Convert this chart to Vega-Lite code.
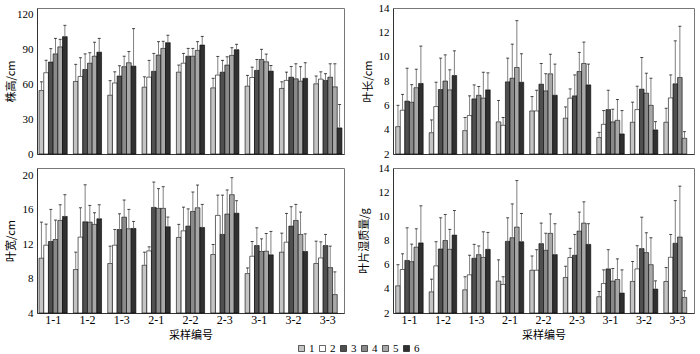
{
  "$schema": "https://vega.github.io/schema/vega-lite/v6.json",
  "padding": {"left": 4, "top": 1, "right": 5, "bottom": 0},
  "background": "white",
  "datasets": {
    "d": [
      {"p":"h","g":"1-1","s":"1","v":54.5,"e":62},{"p":"h","g":"1-1","s":"2","v":69.8,"e":80.5},{"p":"h","g":"1-1","s":"3","v":79,"e":90.5},{"p":"h","g":"1-1","s":"4","v":86,"e":99.3},{"p":"h","g":"1-1","s":"5","v":92,"e":98.5},{"p":"h","g":"1-1","s":"6","v":100.8,"e":110.5},
      {"p":"h","g":"1-2","s":"1","v":62.3,"e":77},{"p":"h","g":"1-2","s":"2","v":66.6,"e":82.7},{"p":"h","g":"1-2","s":"3","v":72.6,"e":86},{"p":"h","g":"1-2","s":"4","v":78,"e":87},{"p":"h","g":"1-2","s":"5","v":84,"e":96},{"p":"h","g":"1-2","s":"6","v":87.5,"e":99.3},
      {"p":"h","g":"1-3","s":"1","v":50.5,"e":63},{"p":"h","g":"1-3","s":"2","v":61,"e":70.6},{"p":"h","g":"1-3","s":"3","v":67,"e":75.8},{"p":"h","g":"1-3","s":"4","v":75,"e":84},{"p":"h","g":"1-3","s":"5","v":78.4,"e":88},{"p":"h","g":"1-3","s":"6","v":75.5,"e":107.7},
      {"p":"h","g":"2-1","s":"1","v":57.4,"e":66.3},{"p":"h","g":"2-1","s":"2","v":66,"e":80.4},{"p":"h","g":"2-1","s":"3","v":71,"e":86.4},{"p":"h","g":"2-1","s":"4","v":85,"e":96.5},{"p":"h","g":"2-1","s":"5","v":90.7,"e":96.8},{"p":"h","g":"2-1","s":"6","v":95.6,"e":102},
      {"p":"h","g":"2-2","s":"1","v":70.3,"e":76.4},{"p":"h","g":"2-2","s":"2","v":78,"e":86.4},{"p":"h","g":"2-2","s":"3","v":84,"e":90.7},{"p":"h","g":"2-2","s":"4","v":84,"e":90.7},{"p":"h","g":"2-2","s":"5","v":89,"e":96.5},{"p":"h","g":"2-2","s":"6","v":93.6,"e":101},
      {"p":"h","g":"2-3","s":"1","v":56.8,"e":65},{"p":"h","g":"2-3","s":"2","v":67.8,"e":83.8},{"p":"h","g":"2-3","s":"3","v":70.3,"e":80.4},{"p":"h","g":"2-3","s":"4","v":76.4,"e":83.5},{"p":"h","g":"2-3","s":"5","v":84.7,"e":91.3},{"p":"h","g":"2-3","s":"6","v":89.6,"e":94.2},
      {"p":"h","g":"3-1","s":"1","v":58.3,"e":67.5},{"p":"h","g":"3-1","s":"2","v":65.7,"e":74.6},{"p":"h","g":"3-1","s":"3","v":71.8,"e":81.2},{"p":"h","g":"3-1","s":"4","v":81.2,"e":89.9},{"p":"h","g":"3-1","s":"5","v":79.2,"e":85.8},{"p":"h","g":"3-1","s":"6","v":71.2,"e":76},
      {"p":"h","g":"3-2","s":"1","v":56.3,"e":62},{"p":"h","g":"3-2","s":"2","v":63.2,"e":70.3},{"p":"h","g":"3-2","s":"3","v":66,"e":75.2},{"p":"h","g":"3-2","s":"4","v":64.6,"e":77.5},{"p":"h","g":"3-2","s":"5","v":62.6,"e":75},{"p":"h","g":"3-2","s":"6","v":65,"e":78.4},
      {"p":"h","g":"3-3","s":"1","v":60.3,"e":67},{"p":"h","g":"3-3","s":"2","v":64.3,"e":70.6},{"p":"h","g":"3-3","s":"3","v":63.2,"e":69},{"p":"h","g":"3-3","s":"4","v":66,"e":77.5},{"p":"h","g":"3-3","s":"5","v":57.7,"e":77.5},{"p":"h","g":"3-3","s":"6","v":22.4,"e":42.5},

      {"p":"l","g":"1-1","s":"1","v":4.25,"e":6.0},{"p":"l","g":"1-1","s":"2","v":5.6,"e":6.9},{"p":"l","g":"1-1","s":"3","v":6.35,"e":9.05},{"p":"l","g":"1-1","s":"4","v":6.25,"e":7.7},{"p":"l","g":"1-1","s":"5","v":7.45,"e":8.97},{"p":"l","g":"1-1","s":"6","v":7.8,"e":10.87},
      {"p":"l","g":"1-2","s":"1","v":3.75,"e":4.8},{"p":"l","g":"1-2","s":"2","v":5.9,"e":7.9},{"p":"l","g":"1-2","s":"3","v":7.3,"e":9.88},{"p":"l","g":"1-2","s":"4","v":8.0,"e":10.15},{"p":"l","g":"1-2","s":"5","v":7.27,"e":8.92},{"p":"l","g":"1-2","s":"6","v":8.45,"e":10.48},
      {"p":"l","g":"1-3","s":"1","v":3.92,"e":5.0},{"p":"l","g":"1-3","s":"2","v":5.16,"e":6.78},{"p":"l","g":"1-3","s":"3","v":6.53,"e":7.68},{"p":"l","g":"1-3","s":"4","v":6.83,"e":7.55},{"p":"l","g":"1-3","s":"5","v":6.6,"e":8.72},{"p":"l","g":"1-3","s":"6","v":7.27,"e":8.67},
      {"p":"l","g":"2-1","s":"1","v":4.64,"e":6.4},{"p":"l","g":"2-1","s":"2","v":4.36,"e":5.0},{"p":"l","g":"2-1","s":"3","v":7.93,"e":9.88},{"p":"l","g":"2-1","s":"4","v":8.23,"e":11.03},{"p":"l","g":"2-1","s":"5","v":9.11,"e":12.96},{"p":"l","g":"2-1","s":"6","v":7.9,"e":10.24},
      {"p":"l","g":"2-2","s":"1","v":5.54,"e":6.72},{"p":"l","g":"2-2","s":"2","v":5.54,"e":7.24},{"p":"l","g":"2-2","s":"3","v":7.74,"e":9.44},{"p":"l","g":"2-2","s":"4","v":7.19,"e":8.6},{"p":"l","g":"2-2","s":"5","v":8.59,"e":10.2},{"p":"l","g":"2-2","s":"6","v":6.83,"e":9.39},
      {"p":"l","g":"2-3","s":"1","v":4.94,"e":5.87},{"p":"l","g":"2-3","s":"2","v":6.59,"e":7.35},{"p":"l","g":"2-3","s":"3","v":6.78,"e":8.5},{"p":"l","g":"2-3","s":"4","v":8.78,"e":10.35},{"p":"l","g":"2-3","s":"5","v":9.44,"e":11.2},{"p":"l","g":"2-3","s":"6","v":7.68,"e":9.39},
      {"p":"l","g":"3-1","s":"1","v":3.35,"e":3.78},{"p":"l","g":"3-1","s":"2","v":4.44,"e":5.57},{"p":"l","g":"3-1","s":"3","v":5.65,"e":7.24},{"p":"l","g":"3-1","s":"4","v":4.64,"e":5.68},{"p":"l","g":"3-1","s":"5","v":4.77,"e":6.48},{"p":"l","g":"3-1","s":"6","v":3.65,"e":5.57},
      {"p":"l","g":"3-2","s":"1","v":4.61,"e":6.26},{"p":"l","g":"3-2","s":"2","v":5.65,"e":7.57},{"p":"l","g":"3-2","s":"3","v":7.33,"e":9.93},{"p":"l","g":"3-2","s":"4","v":7.0,"e":8.64},{"p":"l","g":"3-2","s":"5","v":6.0,"e":8.23},{"p":"l","g":"3-2","s":"6","v":3.98,"e":4.66},
      {"p":"l","g":"3-3","s":"1","v":4.61,"e":5.76},{"p":"l","g":"3-3","s":"2","v":6.61,"e":8.5},{"p":"l","g":"3-3","s":"3","v":7.77,"e":11.3},{"p":"l","g":"3-3","s":"4","v":8.29,"e":12.5},{"p":"l","g":"3-3","s":"5","v":3.29,"e":3.84},

      {"p":"w","g":"1-1","s":"1","v":10.37,"e":14.56},{"p":"w","g":"1-1","s":"2","v":11.88,"e":14.33},{"p":"w","g":"1-1","s":"3","v":12.31,"e":16.04},{"p":"w","g":"1-1","s":"4","v":12.54,"e":14.8},{"p":"w","g":"1-1","s":"5","v":14.76,"e":16.58},{"p":"w","g":"1-1","s":"6","v":15.22,"e":17.75},
      {"p":"w","g":"1-2","s":"1","v":9.05,"e":11.07},{"p":"w","g":"1-2","s":"2","v":12.82,"e":16.23},{"p":"w","g":"1-2","s":"3","v":14.6,"e":18.9},{"p":"w","g":"1-2","s":"4","v":14.56,"e":16.5},{"p":"w","g":"1-2","s":"5","v":14.3,"e":15.65},{"p":"w","g":"1-2","s":"6","v":14.95,"e":16.58},
      {"p":"w","g":"1-3","s":"1","v":9.75,"e":11.77},{"p":"w","g":"1-3","s":"2","v":11.88,"e":13.7},{"p":"w","g":"1-3","s":"3","v":13.7,"e":15.53},{"p":"w","g":"1-3","s":"4","v":15.14,"e":17.13},{"p":"w","g":"1-3","s":"5","v":13.79,"e":16.04},{"p":"w","g":"1-3","s":"6","v":13.83,"e":14.64},
      {"p":"w","g":"2-1","s":"1","v":9.55,"e":11.07},{"p":"w","g":"2-1","s":"2","v":11.22,"e":11.69},{"p":"w","g":"2-1","s":"3","v":16.27,"e":19.22},{"p":"w","g":"2-1","s":"4","v":16.16,"e":18.45},{"p":"w","g":"2-1","s":"5","v":16.16,"e":18.68},{"p":"w","g":"2-1","s":"6","v":14.02,"e":15.15},
      {"p":"w","g":"2-2","s":"1","v":12.78,"e":14.3},{"p":"w","g":"2-2","s":"2","v":13.55,"e":16.3},{"p":"w","g":"2-2","s":"3","v":14.1,"e":16.1},{"p":"w","g":"2-2","s":"4","v":15.8,"e":18.06},{"p":"w","g":"2-2","s":"5","v":16.23,"e":18.87},{"p":"w","g":"2-2","s":"6","v":13.94,"e":16.62},
      {"p":"w","g":"2-3","s":"1","v":10.8,"e":11.96},{"p":"w","g":"2-3","s":"2","v":15.34,"e":17.7},{"p":"w","g":"2-3","s":"3","v":13.13,"e":17.7},{"p":"w","g":"2-3","s":"4","v":15.5,"e":18.3},{"p":"w","g":"2-3","s":"5","v":17.75,"e":19.73},{"p":"w","g":"2-3","s":"6","v":15.6,"e":17.05},
      {"p":"w","g":"3-1","s":"1","v":8.58,"e":9.24},{"p":"w","g":"3-1","s":"2","v":10.6,"e":12.31},{"p":"w","g":"3-1","s":"3","v":11.84,"e":13.9},{"p":"w","g":"3-1","s":"4","v":11.15,"e":12.62},{"p":"w","g":"3-1","s":"5","v":11.18,"e":13.24},{"p":"w","g":"3-1","s":"6","v":10.76,"e":13.48},
      {"p":"w","g":"3-2","s":"1","v":11.07,"e":13.28},{"p":"w","g":"3-2","s":"2","v":12.23,"e":15.57},{"p":"w","g":"3-2","s":"3","v":14.1,"e":16.35},{"p":"w","g":"3-2","s":"4","v":14.76,"e":16.62},{"p":"w","g":"3-2","s":"5","v":13.13,"e":15.73},{"p":"w","g":"3-2","s":"6","v":11.15,"e":13.2},
      {"p":"w","g":"3-3","s":"1","v":9.75,"e":12.35},{"p":"w","g":"3-3","s":"2","v":10.4,"e":12.27},{"p":"w","g":"3-3","s":"3","v":11.84,"e":13.13},{"p":"w","g":"3-3","s":"4","v":9.28,"e":11.77},{"p":"w","g":"3-3","s":"5","v":6.14,"e":8.78},

      {"p":"m","g":"1-1","s":"1","v":4.25,"e":6.0},{"p":"m","g":"1-1","s":"2","v":5.6,"e":6.9},{"p":"m","g":"1-1","s":"3","v":6.35,"e":9.05},{"p":"m","g":"1-1","s":"4","v":6.25,"e":7.7},{"p":"m","g":"1-1","s":"5","v":7.45,"e":8.97},{"p":"m","g":"1-1","s":"6","v":7.8,"e":10.87},
      {"p":"m","g":"1-2","s":"1","v":3.75,"e":4.8},{"p":"m","g":"1-2","s":"2","v":5.9,"e":7.9},{"p":"m","g":"1-2","s":"3","v":7.3,"e":9.88},{"p":"m","g":"1-2","s":"4","v":8.0,"e":10.15},{"p":"m","g":"1-2","s":"5","v":7.27,"e":8.92},{"p":"m","g":"1-2","s":"6","v":8.45,"e":10.48},
      {"p":"m","g":"1-3","s":"1","v":3.92,"e":5.0},{"p":"m","g":"1-3","s":"2","v":5.16,"e":6.78},{"p":"m","g":"1-3","s":"3","v":6.53,"e":7.68},{"p":"m","g":"1-3","s":"4","v":6.83,"e":7.55},{"p":"m","g":"1-3","s":"5","v":6.6,"e":8.72},{"p":"m","g":"1-3","s":"6","v":7.27,"e":8.67},
      {"p":"m","g":"2-1","s":"1","v":4.64,"e":6.4},{"p":"m","g":"2-1","s":"2","v":4.36,"e":5.0},{"p":"m","g":"2-1","s":"3","v":7.93,"e":9.88},{"p":"m","g":"2-1","s":"4","v":8.23,"e":11.03},{"p":"m","g":"2-1","s":"5","v":9.11,"e":12.96},{"p":"m","g":"2-1","s":"6","v":7.9,"e":10.24},
      {"p":"m","g":"2-2","s":"1","v":5.54,"e":6.72},{"p":"m","g":"2-2","s":"2","v":5.54,"e":7.24},{"p":"m","g":"2-2","s":"3","v":7.74,"e":9.44},{"p":"m","g":"2-2","s":"4","v":7.19,"e":8.6},{"p":"m","g":"2-2","s":"5","v":8.59,"e":10.2},{"p":"m","g":"2-2","s":"6","v":6.83,"e":9.39},
      {"p":"m","g":"2-3","s":"1","v":4.94,"e":5.87},{"p":"m","g":"2-3","s":"2","v":6.59,"e":7.35},{"p":"m","g":"2-3","s":"3","v":6.78,"e":8.5},{"p":"m","g":"2-3","s":"4","v":8.78,"e":10.35},{"p":"m","g":"2-3","s":"5","v":9.44,"e":11.2},{"p":"m","g":"2-3","s":"6","v":7.68,"e":9.39},
      {"p":"m","g":"3-1","s":"1","v":3.35,"e":3.78},{"p":"m","g":"3-1","s":"2","v":4.44,"e":5.57},{"p":"m","g":"3-1","s":"3","v":5.65,"e":7.24},{"p":"m","g":"3-1","s":"4","v":4.64,"e":5.68},{"p":"m","g":"3-1","s":"5","v":4.77,"e":6.48},{"p":"m","g":"3-1","s":"6","v":3.65,"e":5.57},
      {"p":"m","g":"3-2","s":"1","v":4.61,"e":6.26},{"p":"m","g":"3-2","s":"2","v":5.65,"e":7.57},{"p":"m","g":"3-2","s":"3","v":7.33,"e":9.93},{"p":"m","g":"3-2","s":"4","v":7.0,"e":8.64},{"p":"m","g":"3-2","s":"5","v":6.0,"e":8.23},{"p":"m","g":"3-2","s":"6","v":3.98,"e":4.66},
      {"p":"m","g":"3-3","s":"1","v":4.61,"e":5.76},{"p":"m","g":"3-3","s":"2","v":6.61,"e":8.5},{"p":"m","g":"3-3","s":"3","v":7.77,"e":11.3},{"p":"m","g":"3-3","s":"4","v":8.29,"e":12.5},{"p":"m","g":"3-3","s":"5","v":3.29,"e":3.84}
    ]
  },
  "columns": 2,
  "bounds": "flush",
  "spacing": {"row": 14, "column": 49},
  "resolve": {"scale": {"x": "independent", "y": "independent", "xOffset": "independent", "fill": "shared"}},
  "concat": [
    {
      "width": 307, "height": 146,
      "data": {"name": "d"},
      "transform": [{"filter": "datum.p === 'h'"}],
      "encoding": {
        "x": {"field": "g", "type": "nominal", "scale": {"paddingInner": 0.18, "paddingOuter": 0.06}, "axis": {"labels": false, "ticks": false, "title": null}},
        "xOffset": {"field": "s", "type": "nominal", "scale": {"domain": ["1","2","3","4","5","6"], "paddingInner": 0, "paddingOuter": 0}}
      },
      "layer": [
        {"mark": {"type": "bar", "stroke": "black", "strokeWidth": 0.6},
         "encoding": {
           "y": {"field": "v", "type": "quantitative", "scale": {"domain": [0, 125.4], "nice": false, "zero": false}, "axis": {"values": [0, 30, 60, 90, 120], "title": "株高/cm", "titleX": -26}},
           "y2": {"datum": 0},
           "fill": {"field": "s", "type": "nominal", "scale": {"domain": ["1","2","3","4","5","6"], "range": ["#c4c4c4", "#ffffff", "#4f4f4f", "#8a8a8a", "#a8a8a8", "#303030"]},
             "legend": {"orient": "none", "legendX": 259, "legendY": 335, "direction": "horizontal", "gridAlign": "none", "title": null, "symbolType": "square", "symbolSize": 36, "symbolStrokeColor": "black", "symbolStrokeWidth": 0.6, "labelFont": "Liberation Serif", "labelFontSize": 11, "labelOffset": 2, "columnPadding": 2, "padding": 0}}
         }},
        {"mark": {"type": "rule", "color": "#808080", "strokeWidth": 1},
         "encoding": {"y": {"field": "v", "type": "quantitative", "axis": {"values": [0, 30, 60, 90, 120], "title": "株高/cm", "titleX": -26}}, "y2": {"field": "e"}}},
        {"mark": {"type": "tick", "color": "black", "size": 3, "thickness": 1},
         "encoding": {"y": {"field": "e", "type": "quantitative", "axis": {"values": [0, 30, 60, 90, 120], "title": "株高/cm", "titleX": -26}}}}
      ]
    },
    {
      "width": 301, "height": 146,
      "data": {"name": "d"},
      "transform": [{"filter": "datum.p === 'l'"}],
      "encoding": {
        "x": {"field": "g", "type": "nominal", "scale": {"paddingInner": 0.18, "paddingOuter": 0.08}, "axis": {"labels": false, "ticks": false, "title": null}},
        "xOffset": {"field": "s", "type": "nominal", "scale": {"domain": ["1","2","3","4","5","6"], "paddingInner": 0, "paddingOuter": 0}}
      },
      "layer": [
        {"mark": {"type": "bar", "stroke": "black", "strokeWidth": 0.6},
         "encoding": {
           "y": {"field": "v", "type": "quantitative", "scale": {"domain": [2, 14], "nice": false, "zero": false}, "axis": {"values": [2, 4, 6, 8, 10, 12, 14], "title": "叶长/cm", "titleX": -25}},
           "y2": {"datum": 2},
           "fill": {"field": "s", "type": "nominal"}
         }},
        {"mark": {"type": "rule", "color": "#808080", "strokeWidth": 1},
         "encoding": {"y": {"field": "v", "type": "quantitative", "axis": {"values": [2, 4, 6, 8, 10, 12, 14], "title": "叶长/cm", "titleX": -25}}, "y2": {"field": "e"}}},
        {"mark": {"type": "tick", "color": "black", "size": 3, "thickness": 1},
         "encoding": {"y": {"field": "e", "type": "quantitative", "axis": {"values": [2, 4, 6, 8, 10, 12, 14], "title": "叶长/cm", "titleX": -25}}}}
      ]
    },
    {
      "width": 307, "height": 145,
      "data": {"name": "d"},
      "transform": [{"filter": "datum.p === 'w'"}],
      "encoding": {
        "x": {"field": "g", "type": "nominal", "scale": {"paddingInner": 0.18, "paddingOuter": 0.06}, "axis": {"labelAngle": 0, "labelFontSize": 12, "title": "采样编号", "titlePadding": 4, "ticks": false, "labelPadding": 1}},
        "xOffset": {"field": "s", "type": "nominal", "scale": {"domain": ["1","2","3","4","5","6"], "paddingInner": 0, "paddingOuter": 0}}
      },
      "layer": [
        {"mark": {"type": "bar", "stroke": "black", "strokeWidth": 0.6},
         "encoding": {
           "y": {"field": "v", "type": "quantitative", "scale": {"domain": [4, 20.85], "nice": false, "zero": false}, "axis": {"values": [4, 8, 12, 16, 20], "title": "叶宽/cm", "titleX": -26}},
           "y2": {"datum": 4},
           "fill": {"field": "s", "type": "nominal"}
         }},
        {"mark": {"type": "rule", "color": "#808080", "strokeWidth": 1},
         "encoding": {"y": {"field": "v", "type": "quantitative", "axis": {"values": [4, 8, 12, 16, 20], "title": "叶宽/cm", "titleX": -26}}, "y2": {"field": "e"}}},
        {"mark": {"type": "tick", "color": "black", "size": 3, "thickness": 1},
         "encoding": {"y": {"field": "e", "type": "quantitative", "axis": {"values": [4, 8, 12, 16, 20], "title": "叶宽/cm", "titleX": -26}}}}
      ]
    },
    {
      "width": 301, "height": 145,
      "data": {"name": "d"},
      "transform": [{"filter": "datum.p === 'm'"}],
      "encoding": {
        "x": {"field": "g", "type": "nominal", "scale": {"paddingInner": 0.18, "paddingOuter": 0.08}, "axis": {"labelAngle": 0, "labelFontSize": 12, "title": "采样编号", "titlePadding": 4, "ticks": false, "labelPadding": 1}},
        "xOffset": {"field": "s", "type": "nominal", "scale": {"domain": ["1","2","3","4","5","6"], "paddingInner": 0, "paddingOuter": 0}}
      },
      "layer": [
        {"mark": {"type": "bar", "stroke": "black", "strokeWidth": 0.6},
         "encoding": {
           "y": {"field": "v", "type": "quantitative", "scale": {"domain": [2, 14], "nice": false, "zero": false}, "axis": {"values": [2, 4, 6, 8, 10, 12, 14], "title": "叶片湿质量/g", "titleX": -29}},
           "y2": {"datum": 2},
           "fill": {"field": "s", "type": "nominal"}
         }},
        {"mark": {"type": "rule", "color": "#808080", "strokeWidth": 1},
         "encoding": {"y": {"field": "v", "type": "quantitative", "axis": {"values": [2, 4, 6, 8, 10, 12, 14], "title": "叶片湿质量/g", "titleX": -29}}, "y2": {"field": "e"}}},
        {"mark": {"type": "tick", "color": "black", "size": 3, "thickness": 1},
         "encoding": {"y": {"field": "e", "type": "quantitative", "axis": {"values": [2, 4, 6, 8, 10, 12, 14], "title": "叶片湿质量/g", "titleX": -29}}}}
      ]
    }
  ],
  "config": {
    "view": {"stroke": "#777", "strokeWidth": 1},
    "axis": {"labelFont": "Liberation Serif", "labelFontSize": 11, "labelColor": "black", "titleFont": "Noto Sans CJK SC", "titleFontSize": 11, "titleFontWeight": "normal", "titleColor": "black", "domainColor": "#333", "tickColor": "#333", "grid": false},
    "axisY": {"labelOverlap": false, "ticks": false, "labelPadding": 4, "titleBaseline": "middle"}
  }
}
